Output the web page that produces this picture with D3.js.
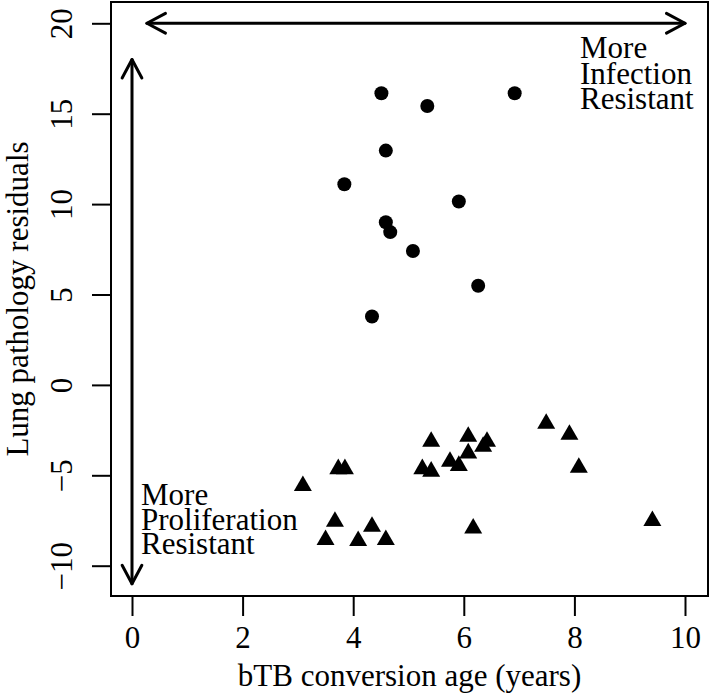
<!DOCTYPE html>
<html>
<head>
<meta charset="utf-8">
<script src="https://cdn.jsdelivr.net/npm/d3@7"></script>
<style>
  html, body { margin: 0; padding: 0; background: #fff; }
  svg { display: block; }
  text { font-family: "Liberation Serif", "Times New Roman", serif; fill: #000; }
</style>
</head>
<body>
<svg id="chart" width="709" height="696"></svg>
<script>
// ---- data ----
const circleX = [4.51, 5.34, 6.92, 4.59, 3.84, 5.91, 4.59, 4.67, 5.08, 6.26, 4.34];
const circleY = [16.13, 15.43, 16.13, 12.96, 11.10, 10.14, 9.00, 8.45, 7.41, 5.48, 3.78];

const triX = [3.09, 3.73, 3.85, 5.41, 5.25, 5.41, 5.75, 5.91, 6.08, 6.08, 6.35, 6.42, 7.49, 7.91, 8.08, 3.67, 3.50, 4.09, 4.34, 4.59, 6.17, 9.41];
const triY = [-5.58, -4.65, -4.65, -3.14, -4.65, -4.79, -4.24, -4.47, -2.86, -3.78, -3.41, -3.14, -2.14, -2.75, -4.57, -7.56, -8.57, -8.63, -7.84, -8.57, -7.93, -7.52];

const xTicks = [0, 2, 4, 6, 8, 10];
const yTicks = [-10, -5, 0, 5, 10, 15, 20];
const xLabel = "bTB conversion age (years)";
const yLabel = "Lung pathology residuals";
const topNote = ["More", "Infection", "Resistant"];
const bottomNote = ["More", "Proliferation", "Resistant"];
// arrows in data units: [x1, y1, x2, y2]
const hArrow = [0.27, 20, 10.0, 20];
const vArrow = [0, -11.0, 0, 18.0];

// ---- layout ----
const box = { left: 111, right: 708, top: 2, bottom: 596 };
const FS = 31;

const svg = d3.select("#chart");
const x = d3.scaleLinear().domain([0, 10]).range([132, 685]);
const y = d3.scaleLinear().domain([-10, 20]).range([565.7, 23.3]);

// box
svg.append("rect")
  .attr("x", box.left).attr("y", box.top)
  .attr("width", box.right - box.left).attr("height", box.bottom - box.top)
  .attr("fill", "none").attr("stroke", "#000").attr("stroke-width", 2);

// x axis
const gx = svg.append("g").attr("transform", `translate(0,${box.bottom})`)
  .call(d3.axisBottom(x).tickValues(xTicks).tickSize(20).tickFormat(d3.format("d")));
gx.select(".domain").remove();
gx.selectAll(".tick line").attr("stroke", "#000").attr("stroke-width", 2);
gx.selectAll(".tick text").attr("y", 52).attr("dy", null)
  .style("font-size", FS + "px").style("font-family", "Liberation Serif");

// y axis
const gy = svg.append("g").attr("transform", `translate(${box.left},0)`)
  .call(d3.axisLeft(y).tickValues(yTicks).tickSize(19)
    .tickFormat(d => d < 0 ? "\u2212" + Math.abs(d) : String(d)));
gy.select(".domain").remove();
gy.selectAll(".tick line").attr("stroke", "#000").attr("stroke-width", 2);
gy.selectAll(".tick text")
  .attr("transform", "rotate(-90)")
  .attr("x", 0).attr("y", -39).attr("dy", null)
  .attr("text-anchor", "middle")
  .style("font-size", FS + "px").style("font-family", "Liberation Serif");

// axis titles
svg.append("text")
  .attr("x", (box.left + box.right) / 2).attr("y", 686)
  .attr("text-anchor", "middle").style("font-size", FS + "px")
  .text(xLabel);
svg.append("text")
  .attr("transform", `translate(28,${(box.top + box.bottom) / 2}) rotate(-90)`)
  .attr("text-anchor", "middle").style("font-size", FS + "px")
  .text(yLabel);

// arrows
function arrow(a, len, angDeg) {
  const [x1, y1, x2, y2] = [x(a[0]), y(a[1]), x(a[2]), y(a[3])];
  const g = svg.append("g").attr("stroke", "#000").attr("stroke-width", 3)
    .attr("fill", "none").attr("stroke-linecap", "round").attr("stroke-linejoin", "round");
  g.append("line").attr("x1", x1).attr("y1", y1).attr("x2", x2).attr("y2", y2);
  const ang = Math.atan2(y2 - y1, x2 - x1);
  const da = angDeg * Math.PI / 180;
  const head = (tx, ty, dir) => {
    const p = d3.path();
    p.moveTo(tx - len * Math.cos(dir - da), ty - len * Math.sin(dir - da));
    p.lineTo(tx, ty);
    p.lineTo(tx - len * Math.cos(dir + da), ty - len * Math.sin(dir + da));
    g.append("path").attr("d", p.toString());
  };
  head(x2, y2, ang);
  head(x1, y1, ang + Math.PI);
}
arrow(hArrow, 21, 28);
arrow(vArrow, 21, 28);

// notes
const t1 = svg.append("text").attr("text-anchor", "start").style("font-size", FS + "px");
topNote.forEach((s, i) => t1.append("tspan").attr("x", 580).attr("y", 58 + i * 25.5).text(s));
const t2 = svg.append("text").attr("text-anchor", "start").style("font-size", FS + "px");
bottomNote.forEach((s, i) => t2.append("tspan").attr("x", 141).attr("y", 505 + i * 24.5).text(s));

// points
const circles = circleX.map((v, i) => ({ x: v, y: circleY[i] }));
const tris = triX.map((v, i) => ({ x: v, y: triY[i] }));

svg.append("g").selectAll("circle").data(circles).join("circle")
  .attr("cx", d => x(d.x)).attr("cy", d => y(d.y)).attr("r", 7).attr("fill", "#000");

const triSym = d3.symbol().type(d3.symbolTriangle).size(140);
svg.append("g").selectAll("path").data(tris).join("path")
  .attr("transform", d => `translate(${x(d.x)},${y(d.y)})`)
  .attr("d", triSym).attr("fill", "#000");
</script>
</body>
</html>
